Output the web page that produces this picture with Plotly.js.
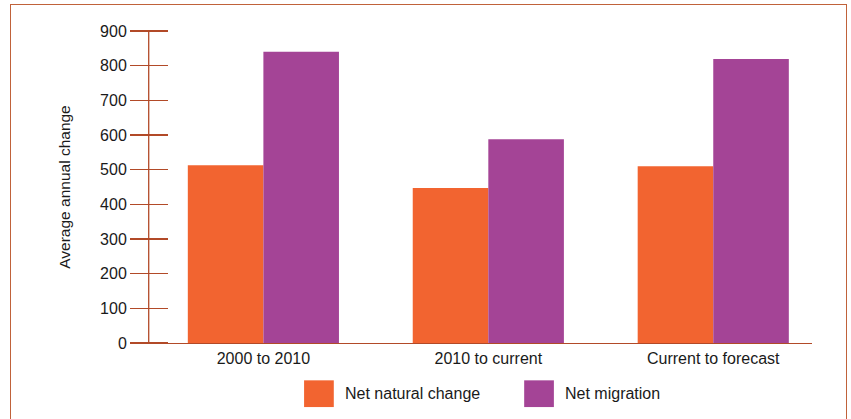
<!DOCTYPE html>
<html>
<head>
<meta charset="utf-8">
<script src="https://cdn.plot.ly/plotly-3.0.1.min.js"></script>
<style>
  html, body { margin: 0; padding: 0; background: #fff; overflow: hidden; }
  #chart { width: 851px; height: 419px; position: absolute; left: 0; top: 0; }
  #frame { position: absolute; left: 10px; top: 4px; width: 837px; height: 440px;
           border-top: 1.6px solid #C0623A; border-left: 1.6px solid #C0623A; border-right: 1.6px solid #C0623A;
           pointer-events: none; box-sizing: border-box; }
</style>
</head>
<body>
<div id="chart"></div>
<div id="frame"></div>
<script>
// ---- data ----
const categories = ["2000 to 2010", "2010 to current", "Current to forecast"];
const netNaturalChange = [513, 447, 510];
const netMigration = [840, 588, 819];
const seriesNames = ["Net natural change", "Net migration"];
const yTickValues = [0, 100, 200, 300, 400, 500, 600, 700, 800, 900];

// ---- style ----
const ORANGE = "#F26430";
const PURPLE = "#A44496";
const AXIS = "#B24A28";
const TEXT = "#1a1a1a";
const FONT = "Liberation Sans, Arial, Helvetica, sans-serif";

const W = 851, H = 419;
const mL = 130, mR = 39.3, mT = 31, mB = 76.3;
const plotW = W - mL - mR, plotH = H - mT - mB;
const px2x = p => (p - mL) / plotW;
const px2y = p => (H - mB - p) / plotH;

const traces = [
  { type: "bar", name: seriesNames[0], x: categories, y: netNaturalChange,
    marker: { color: ORANGE, line: { width: 0 } }, showlegend: false, hoverinfo: "x+y+name" },
  { type: "bar", name: seriesNames[1], x: categories, y: netMigration,
    marker: { color: PURPLE, line: { width: 0 } }, showlegend: false, hoverinfo: "x+y+name" }
];

const legendItems = [
  { name: seriesNames[0], color: ORANGE, boxX: 304, textX: 344 },
  { name: seriesNames[1], color: PURPLE, boxX: 524, textX: 564 }
];
const shapes = legendItems.map(it => ({
  type: "rect", xref: "paper", yref: "paper",
  x0: px2x(it.boxX), x1: px2x(it.boxX + 29.7),
  y0: px2y(406.7), y1: px2y(380),
  fillcolor: it.color, line: { width: 0 }
}));
// vertical axis line (ticks cross it)
shapes.push({
  type: "line", xref: "paper", yref: "paper",
  x0: px2x(148.7), x1: px2x(148.7), y0: 0, y1: 1,
  line: { color: AXIS, width: 1.3 }, layer: "above"
});
const annotations = legendItems.map(it => ({
  xref: "paper", yref: "paper", x: px2x(it.textX), y: px2y(393.3),
  xanchor: "left", yanchor: "middle", showarrow: false, text: it.name,
  font: { family: FONT, size: 16, color: TEXT }, borderpad: 0
}));

const layout = {
  width: W, height: H,
  margin: { l: mL, r: mR, t: mT, b: mB, pad: 0 },
  paper_bgcolor: "#ffffff", plot_bgcolor: "#ffffff",
  font: { family: FONT, size: 16, color: TEXT },
  barmode: "group", bargap: 0.328, bargroupgap: 0,
  showlegend: false,
  xaxis: {
    type: "category", range: [-0.593, 2.439],
    showline: true, linecolor: AXIS, linewidth: 1.3,
    ticks: "", showgrid: false, zeroline: false,
    tickfont: { family: FONT, size: 16, color: TEXT },
    fixedrange: true
  },
  yaxis: {
    range: [0, 900], tickvals: yTickValues, ticktext: yTickValues.map(String),
    anchor: "free", position: px2x(167.7),
    showline: false,
    ticks: "outside", ticklen: 37.7, tickwidth: 1.3, tickcolor: AXIS,
    showgrid: false, zeroline: false,
    tickfont: { family: FONT, size: 16, color: TEXT },
    title: { text: "Average annual change", font: { family: FONT, size: 15.5, color: TEXT }, standoff: 24 },
    fixedrange: true
  },
  shapes: shapes,
  annotations: annotations
};

Plotly.newPlot("chart", traces, layout, { displayModeBar: false, staticPlot: true });
</script>
</body>
</html>
